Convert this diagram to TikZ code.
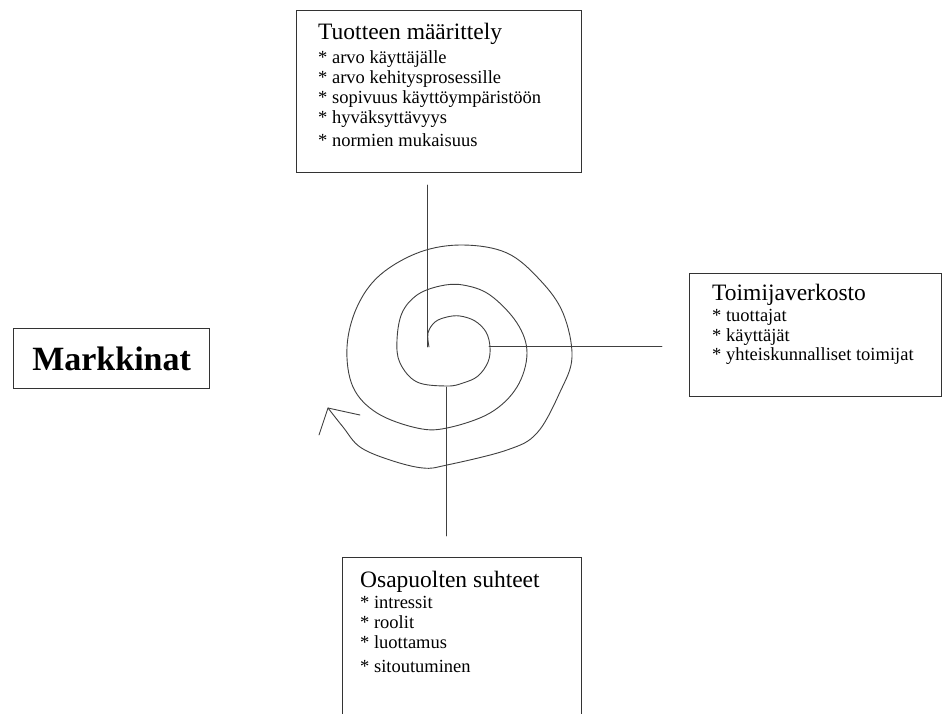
\documentclass[tikz,border=0pt]{standalone}
\usepackage{fontspec}
\setmainfont{Liberation Serif}
\begin{document}
\begin{tikzpicture}[x=1pt,y=-1pt,
  box/.style={draw=black!80,line width=1.2pt,inner sep=0pt,anchor=north west},
  ttl/.style={anchor=base west,inner sep=0pt,font=\fontsize{23.5}{25}\selectfont},
  itm/.style={anchor=base west,inner sep=0pt,font=\fontsize{18.5}{20}\selectfont},
  sp/.style={draw=black!75,line width=0.9pt,line cap=round,line join=round}]
\useasboundingbox (0,0) rectangle (944,713);
\fill[white] (0,0) rectangle (944,713);

% boxes
\node[box,minimum width=285pt,minimum height=162pt] (tbox) at (296,10) {};
\node[box,minimum width=252pt,minimum height=123pt] (rbox) at (689,273) {};
\node[box,minimum width=196pt,minimum height=60pt] (lbox) at (13,328) {};
\node[box,minimum width=239pt,minimum height=175pt] (bbox) at (342,557) {};

% top box text
\node[ttl] (t0) at (318,39) {Tuotteen määrittely};
\node[itm] (t1) at (318,63) {* arvo käyttäjälle};
\node[itm] (t2) at (318,83) {* arvo kehitysprosessille};
\node[itm] (t3) at (318,103) {* sopivuus käyttöympäristöön};
\node[itm] (t4) at (318,123) {* hyväksyttävyys};
\node[itm] (t5) at (318,146) {* normien mukaisuus};

% right box text
\node[ttl] (r0) at (712,300) {Toimijaverkosto};
\node[itm] (r1) at (712,321) {* tuottajat};
\node[itm] (r2) at (712,341) {* käyttäjät};
\node[itm] (r3) at (712,360) {* yhteiskunnalliset toimijat};

% left box text
\node[inner sep=0pt,font=\fontsize{34}{36}\selectfont\bfseries] (m) at (lbox.center) {Markkinat};

% bottom box text
\node[ttl] (b0) at (360,587) {Osapuolten suhteet};
\node[itm] (b1) at (360,608) {* intressit};
\node[itm] (b2) at (360,628) {* roolit};
\node[itm] (b3) at (360,648) {* luottamus};
\node[itm] (b4) at (360,672) {* sitoutuminen};

% axis lines
\coordinate (vt) at (427,185);
\coordinate (vc) at (427,347);
\coordinate (hs) at (489,346);
\coordinate (he) at (662,346);
\coordinate (bs) at (446,387);
\coordinate (be) at (446,536);
\draw[sp] (vt) -- (vc);
\draw[sp] (hs) -- (he);
\draw[sp] (bs) -- (be);

% spiral
\draw[sp] plot[smooth,tension=0.6] coordinates {
 (429,347) (428,333) (435,322) (447,317) (460,316) (475,321) (486,332) (490,347)
 (488,362) (478,376) (463,383) (447,386) (417,382) (400,363) (397,340)
 (402,313) (417,295) (440,286) (463,285) (490,295) (517,323) (527,353) (517,387) (490,413)
 (447,428) (417,428) (377,413) (353,387) (347,347) (357,307) (380,275)
 (420,252) (463,245) (507,253) (540,280) (563,313) (572,357) (560,392) (537,433) (507,450)
 (447,465) (423,468) (390,460) (360,447) (343,427) (328,408)};
\coordinate (tip) at (328,408);
\coordinate (a1) at (360,415);
\coordinate (a2) at (319,435);
\draw[sp] (a1) -- (tip) -- (a2);
\end{tikzpicture}
\end{document}
